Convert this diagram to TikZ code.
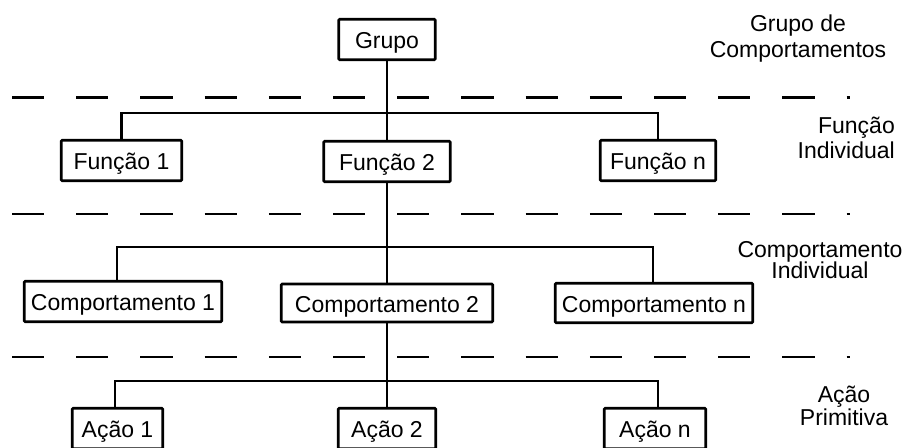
\documentclass[tikz,border=0pt]{standalone}
\usepackage{fontspec}
\setmainfont{Liberation Sans}
\begin{document}
\begin{tikzpicture}[x=1pt,y=-1pt,
  box/.style={draw, line width=2.6pt, rounded corners=1pt, inner sep=0pt,
    minimum height=40.5pt, text height=18pt, text depth=0pt,
    font={\fontsize{23}{25}\selectfont}},
  link/.style={line width=2.6pt},
  levelsep/.style={line width=2.8pt, dash pattern=on 32.1pt off 32.1pt},
  levellabel/.style={inner sep=0pt, anchor=north, align=center}]
\useasboundingbox (0,0) rectangle (907,447);

% level separators
\coordinate (s1a) at (12,97.5);  \coordinate (s1b) at (849.5,97.5);
\coordinate (s2a) at (12,214);   \coordinate (s2b) at (849.5,214);
\coordinate (s3a) at (12,357);   \coordinate (s3b) at (849.5,357);
\draw[levelsep] (s1a) -- (s1b);
\draw[levelsep] (s2a) -- (s2b);
\draw[levelsep] (s3a) -- (s3b);

% boxes
\node[box, minimum width=96.5pt]  (g)  at (387,39.5)  {Grupo};
\node[box, minimum width=120.5pt] (f1) at (121.5,160.5) {Função 1};
\node[box, minimum width=126.5pt] (f2) at (387,161.5) {Função 2};
\node[box, minimum width=115.5pt] (fn) at (658,160.5) {Função n};
\node[box, minimum width=197.5pt] (c1) at (123,301.5) {Comportamento 1};
\node[box, minimum width=211.5pt, minimum height=38pt] (c2) at (387,303) {Comportamento 2};
\node[box, minimum width=197.5pt, minimum height=39.5pt] (cn) at (654,303) {Comportamento n};
\node[box, minimum width=90.5pt]  (a1) at (117.5,428.5) {Ação 1};
\node[box, minimum width=97.5pt]  (a2) at (387,428.5) {Ação 2};
\node[box, minimum width=101.5pt] (an) at (655,428.5) {Ação n};

% fork points
\coordinate (k1) at (387,113);
\coordinate (k2) at (387,247);
\coordinate (k3) at (387,381);

% connectors
\draw[link] (g.south) -- (f2.north);
\draw[link] (f1.north) -- (f1.north |- k1) -- (fn.north |- k1) -- (fn.north);
\draw[link] (f2.south) -- (c2.north);
\draw[link] ([xshift=-6pt]c1.north) -- ([xshift=-6pt]c1.north |- k2) -- ([xshift=-1pt]cn.north |- k2) -- ([xshift=-1pt]cn.north);
\draw[link] (c2.south) -- (a2.north);
\draw[link] ([xshift=-2.5pt]a1.north) -- ([xshift=-2.5pt]a1.north |- k3) -- ([xshift=3pt]an.north |- k3) -- ([xshift=3pt]an.north);

% level names
\node[levellabel, font={\fontsize{23}{26}\selectfont}] (lg) at (798,15) {Grupo de\\Comportamentos};
\node[levellabel, anchor=north east, align=right, font={\fontsize{23}{25}\selectfont}] (lf) at (895,117) {Função\\Individual};
\node[levellabel, font={\fontsize{23}{21.5}\selectfont}] (lc) at (820,241) {Comportamento\\Individual};
\node[levellabel, font={\fontsize{23}{18.5}\selectfont}] (la) at (844,386) {Ação\\Primitiva};
\end{tikzpicture}
\end{document}
